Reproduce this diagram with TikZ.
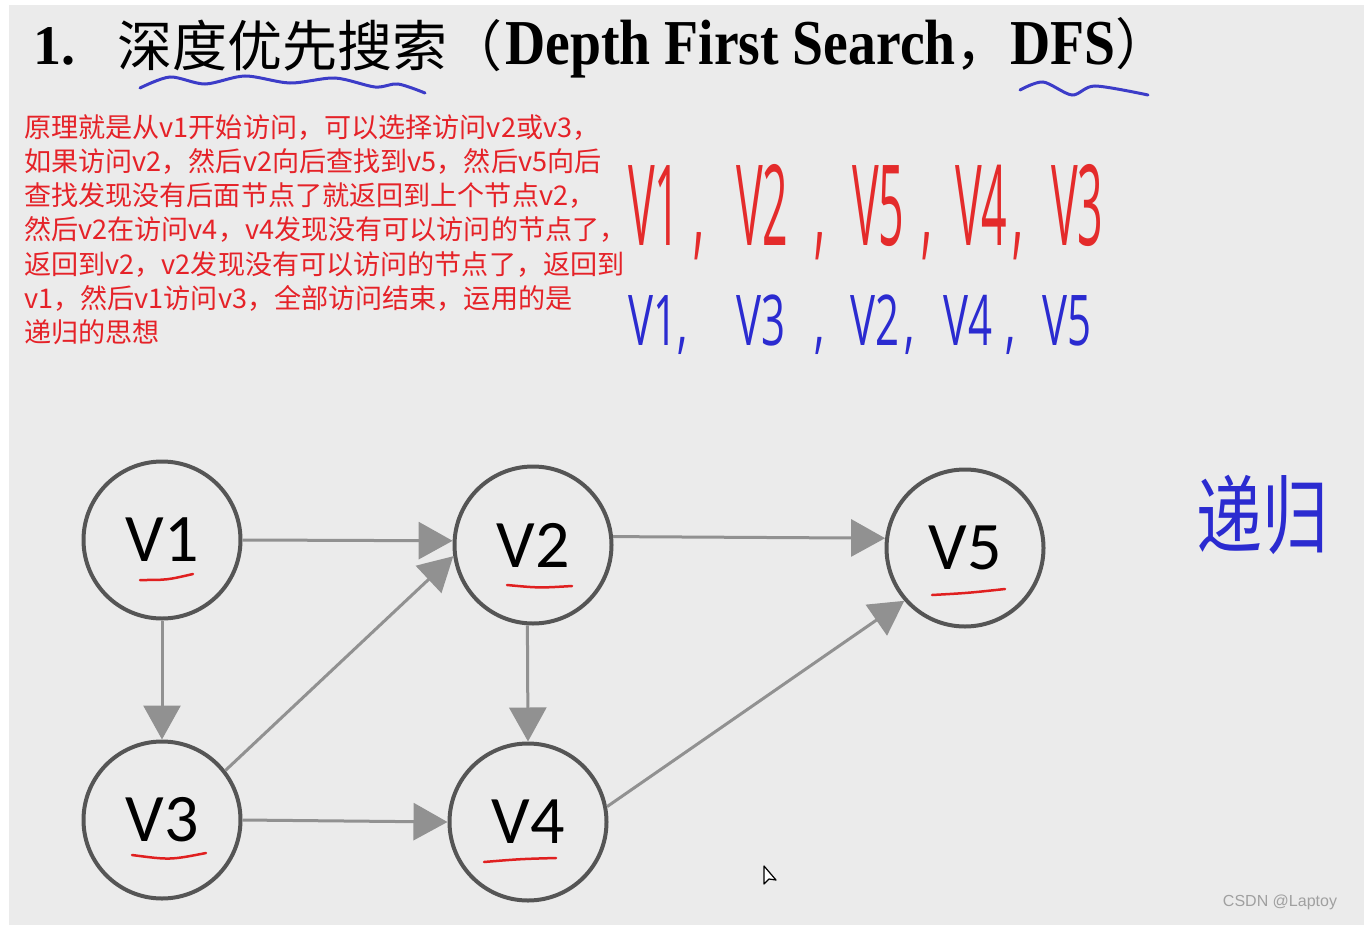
\documentclass[tikz,border=0pt]{standalone}
\usepackage{fontspec}
\usepackage{graphicx}
\usetikzlibrary{arrows.meta}
\setmainfont{Liberation Serif}
\newfontfamily\cjk{Noto Sans CJK SC}
\newfontfamily\titlelatin{Liberation Serif}[FakeStretch=0.87]
\newfontfamily\labelfont{Carlito}
\newfontfamily\handfont{Open Sans}
\newfontfamily\markfont{Liberation Sans}
\definecolor{bggray}{HTML}{EBEBEB}
\definecolor{textred}{HTML}{E52228}
\definecolor{handred}{HTML}{E42B2B}
\definecolor{handblue}{HTML}{2B2BD0}
\definecolor{waveblue}{HTML}{3C3CC8}
\definecolor{circgray}{HTML}{555555}
\definecolor{arrowgray}{HTML}{919191}
\definecolor{ulred}{HTML}{E02020}
\definecolor{markgray}{HTML}{A0A0A0}
\newcommand\handtxt[4]{\scalebox{#1}[#2]{\fontsize{#3}{#3}\selectfont #4}}

\begin{document}
\begin{tikzpicture}[x=1pt,y=-1pt,>=Stealth,
  vertex/.style={circle,draw=circgray,line width=4pt,minimum size=157pt,inner sep=0pt,
    font=\labelfont\fontsize{68}{68}\selectfont},
  edge/.style={draw=arrowgray,line width=3pt,-{Triangle[length=34pt,width=37pt]}},
  ul/.style={draw=ulred,line width=2.5pt,line cap=round},
  wave/.style={draw=waveblue,line width=3pt,line cap=round},
  para/.style={anchor=base west,inner sep=0pt,text=textred,font=\cjk\fontsize{27.1}{34}\selectfont},
  redhand/.style={anchor=base west,inner sep=0pt,text=handred,font=\handfont},
  bluehand/.style={anchor=base west,inner sep=0pt,text=handblue,font=\handfont}]
\fill[white] (0,0) rectangle (1364,931);
\fill[bggray] (9,5) rectangle (1364,925);
\useasboundingbox (0,0) rectangle (1364,931);

% title
\node[anchor=base west,inner sep=0pt,font=\fontsize{56}{56}\selectfont\bfseries] (tnum) at (33,65) {1.};
\node[anchor=base west,inner sep=0pt,font=\cjk\fontsize{55}{55}\selectfont] (tcjk) at (117,67) {深度优先搜索（};
\node[anchor=base west,inner sep=0pt,font=\fontsize{64}{64}\selectfont] (tlatin) at (505,65)
  {{\titlelatin\bfseries Depth First Search}{\cjk\fontsize{55}{55}\selectfont ，}{\titlelatin\bfseries DFS}{\cjk\fontsize{55}{55}\selectfont ）}};
\draw[wave] plot[smooth] coordinates {(140,88) (170,77) (205,84) (245,76) (290,83) (335,78) (375,87) (398,84) (425,93)};
\draw[wave] plot[smooth] coordinates {(1020,90) (1043,82) (1072,95) (1095,86) (1148,95)};

% explanation
\foreach \ln [count=\i] in {原理就是从v1开始访问，可以选择访问v2或v3，,
    如果访问v2，然后v2向后查找到v5，然后v5向后,
    查找发现没有后面节点了就返回到上个节点v2，,
    然后v2在访问v4，v4发现没有可以访问的节点了，,
    返回到v2，v2发现没有可以访问的节点了，返回到,
    v1，然后v1访问v3，全部访问结束，运用的是,
    递归的思想}
  \node[para] (para\i) at (24,{137+34.3*(\i-1)}) {\ln};

% visiting orders
\foreach \t/\x [count=\i] in {{V1\hspace{16pt},}/628,{V2\hspace{32pt},}/736,{V5\hspace{21pt},}/852,{V4\hspace{6pt},}/955,V3/1051}
  \node[redhand] (red\i) at (\x,245) {\handtxt{0.8}{2}{56}{\t}};
\foreach \t/\x [count=\i] in {{V1,}/628,{V3\hspace{28pt},}/736,{V2\hspace{5pt},}/850,{V4\hspace{13pt},}/943,V5/1042}
  \node[bluehand] (blue\i) at (\x,345) {\handtxt{1.05}{1.75}{40}{\t}};
\node[text=handblue,font=\cjk\fontsize{66}{66}\selectfont] (recur) at (1262,515) {\scalebox{1}[1.3]{递归}};

% graph
\node[vertex] (v1) at (162,540) {V1};
\node[vertex] (v2) at (533,545) {V2};
\node[vertex] (v5) at (965,548) {V5};
\node[vertex] (v3) at (162,820) {V3};
\node[vertex] (v4) at (528,822) {V4};
\draw[edge] (v1.east) -- (v2.177);
\draw[edge] (v1.south) -- (v3.north);
\draw[edge] (v3.38) -- (v2.188);
\draw[edge] (v3.east) -- (v4.west);
\draw[edge] (v2.266) -- (v4.north);
\draw[edge] (v2.6) -- (v5.173);
\draw[edge] (v4.11) -- (v5.221);
\draw[ul] ([shift={(-22,40)}]v1.center) .. controls ([shift={(5,40)}]v1.center) .. ([shift={(31,34)}]v1.center);
\draw[ul] ([shift={(-26,40)}]v2.center) .. controls ([shift={(6,43)}]v2.center) .. ([shift={(39,41)}]v2.center);
\draw[ul] ([shift={(-33,47)}]v5.center) .. controls ([shift={(3,45)}]v5.center) .. ([shift={(40,41)}]v5.center);
\draw[ul] ([shift={(-30,35)}]v3.center) .. controls ([shift={(8,40)}]v3.center) .. ([shift={(44,33)}]v3.center);
\draw[ul] ([shift={(-44,40)}]v4.center) .. controls ([shift={(-8,37)}]v4.center) .. ([shift={(28,36)}]v4.center);

% cursor and mark
\draw[black,line width=1.2pt,fill=white,line join=round] (764,866) -- (764,884) -- (769,879) -- (776,880) -- cycle;
\node[text=markgray,font=\markfont\fontsize{16}{16}\selectfont] (mark) at (1280,902) {CSDN @Laptoy};
\end{tikzpicture}
\end{document}
